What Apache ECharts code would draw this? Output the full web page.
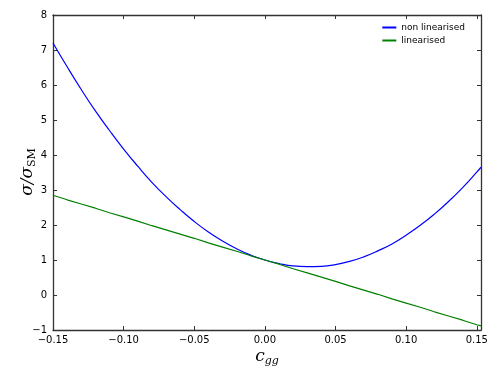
<!DOCTYPE html>
<html>
<head>
<meta charset="utf-8">
<script src="https://cdn.jsdelivr.net/npm/echarts@6/dist/echarts.min.js"></script>
<style>
  html, body { margin: 0; padding: 0; background: #fff; }
  #chart { width: 498px; height: 374px; }
</style>
</head>
<body>
<div id="chart"></div>
<script>
var cgg = [-0.15, -0.14, -0.13, -0.12, -0.11, -0.10, -0.09, -0.08, -0.07, -0.06, -0.05,
  -0.04, -0.03, -0.02, -0.01, 0.00, 0.01, 0.02, 0.03, 0.04, 0.05, 0.06, 0.07, 0.08,
  0.09, 0.10, 0.11, 0.12, 0.13, 0.14, 0.15, 0.153];
var nonLinearised = [7.20, 6.52, 5.87, 5.26, 4.70, 4.17, 3.68, 3.22, 2.81, 2.44, 2.10,
  1.80, 1.54, 1.32, 1.14, 1.00, 0.90, 0.83, 0.81, 0.82, 0.87, 0.96, 1.09, 1.26,
  1.46, 1.71, 1.99, 2.31, 2.67, 3.07, 3.51, 3.65];
var linearised = [2.85, 2.72, 2.60, 2.48, 2.35, 2.23, 2.11, 1.98, 1.86, 1.74, 1.62,
  1.49, 1.37, 1.25, 1.12, 1.00, 0.88, 0.75, 0.63, 0.51, 0.39, 0.26, 0.14, 0.02,
  -0.11, -0.23, -0.35, -0.48, -0.60, -0.72, -0.85, -0.88];
var seriesNames = ["non linearised", "linearised"];

var font = "DejaVu Sans";
function minus(v) { return String(v).replace("-", "\u2212"); }
function pairs(ys) { return cgg.map(function (c, i) { return [c, ys[i]]; }); }

var spine = { onZero: false, lineStyle: { color: "#333", width: 1.3 } };
var ticks = { inside: true, length: 4, lineStyle: { color: "#333" } };

var chart = echarts.init(document.getElementById("chart"));
chart.setOption({
  animation: false,
  backgroundColor: "#fff",
  grid: { left: 53, right: 17, top: 15, bottom: 44, outerBoundsMode: "none" },
  legend: {
    right: 28, top: 18, orient: "vertical", itemGap: 4,
    itemWidth: 14, itemHeight: 2, icon: "rect",
    textStyle: { fontFamily: font, fontSize: 9, color: "#000" },
    data: seriesNames
  },
  // y axis title, drawn as rotated text
  graphic: [{
    type: "text", x: 28, y: 172, rotation: Math.PI / 2,
    style: {
      text: "{a|\u03c3/\u03c3}{s|SM}", align: "center", verticalAlign: "middle",
      rich: {
        a: { fontFamily: "DejaVu Serif", fontStyle: "italic", fontSize: 17, fill: "#000" },
        s: { fontFamily: "DejaVu Serif", fontSize: 11, fill: "#000", padding: [9, 0, 0, 0] }
      }
    }
  }],
  xAxis: [{
    type: "value", min: -0.15, max: 0.153, interval: 0.05,
    name: "{c|c}{s|gg}", nameLocation: "middle", nameGap: 17, nameMoveOverlap: false,
    nameTextStyle: {
      rich: {
        c: { fontFamily: "DejaVu Serif", fontStyle: "italic", fontSize: 17, color: "#000" },
        s: { fontFamily: "DejaVu Serif", fontStyle: "italic", fontSize: 11, color: "#000", padding: [9, 0, 0, 0] }
      }
    },
    axisLine: spine, axisTick: ticks,
    splitLine: { show: false },
    axisLabel: {
      fontFamily: font, fontSize: 10, color: "#000", margin: 5,
      formatter: function (v) {
        var k = Math.round(v / 0.05);
        if (Math.abs(v - k * 0.05) > 1e-6) return "";
        return minus((k * 0.05).toFixed(2));
      }
    }
  }, {
    type: "value", min: -0.15, max: 0.153, interval: 0.05, position: "top",
    axisLine: spine, axisTick: ticks,
    axisLabel: { show: false }, splitLine: { show: false }
  }],
  yAxis: [{
    type: "value", min: -1, max: 8, interval: 1,
    axisLine: spine, axisTick: ticks,
    splitLine: { show: false },
    axisLabel: { fontFamily: font, fontSize: 10, color: "#000", margin: 6, formatter: minus }
  }, {
    type: "value", min: -1, max: 8, interval: 1, position: "right",
    axisLine: spine, axisTick: ticks,
    axisLabel: { show: false }, splitLine: { show: false }
  }],
  series: [{
    name: seriesNames[0], type: "line", smooth: true, showSymbol: false,
    lineStyle: { color: "#0000ff", width: 1.2 }, itemStyle: { color: "#0000ff" },
    data: pairs(nonLinearised)
  }, {
    name: seriesNames[1], type: "line", showSymbol: false,
    lineStyle: { color: "#008000", width: 1.2 }, itemStyle: { color: "#008000" },
    data: pairs(linearised)
  }]
});
</script>
</body>
</html>
